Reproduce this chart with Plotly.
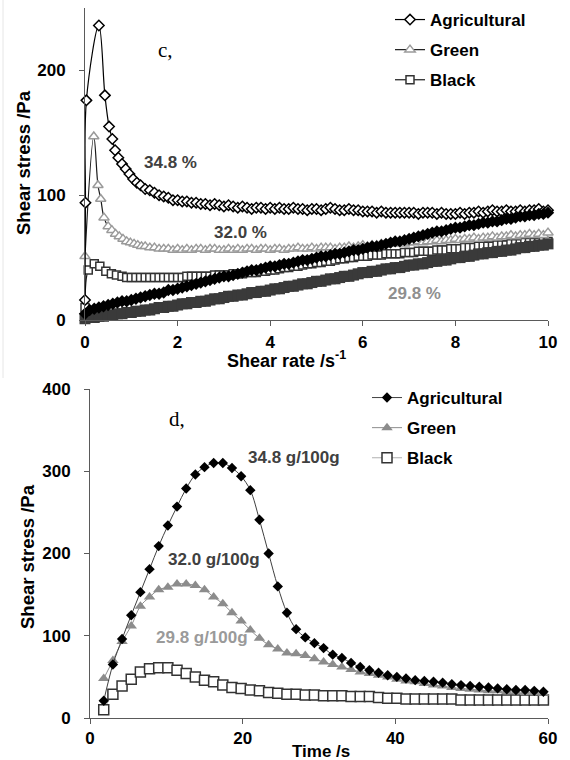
import plotly.graph_objects as go

# ---------------- Panel c: shear stress vs shear rate ----------------
RATE_GRID = [0.0, 0.1, 0.2, 0.3, 0.4, 0.5, 0.6, 0.7, 0.8, 0.9,
             1.0, 1.1, 1.2, 1.3, 1.4, 1.5, 1.6, 1.7, 1.8, 1.9,
             2.0, 2.1, 2.2, 2.3, 2.4, 2.5, 2.6, 2.7, 2.8, 2.9,
             3.0, 3.1, 3.2, 3.3, 3.4, 3.5, 3.6, 3.7, 3.8, 3.9,
             4.0, 4.1, 4.2, 4.3, 4.4, 4.5, 4.6, 4.7, 4.8, 4.9,
             5.0, 5.1, 5.2, 5.3, 5.4, 5.5, 5.6, 5.7, 5.8, 5.9,
             6.0, 6.1, 6.2, 6.3, 6.4, 6.5, 6.6, 6.7, 6.8, 6.9,
             7.0, 7.1, 7.2, 7.3, 7.4, 7.5, 7.6, 7.7, 7.8, 7.9,
             8.0, 8.1, 8.2, 8.3, 8.4, 8.5, 8.6, 8.7, 8.8, 8.9,
             9.0, 9.1, 9.2, 9.3, 9.4, 9.5, 9.6, 9.7, 9.8, 9.9, 10.0]

# Agricultural (up curve, open diamonds): early points then grid from 1.3
agri_up_x_early = [0.0, 0.01, 0.03, 0.3, 0.43, 0.52, 0.59, 0.65, 0.72, 0.8, 0.88, 0.96, 1.04, 1.12, 1.2]
agri_up_y_early = [16, 94, 176, 236, 180, 155, 145, 136, 130, 125, 121, 117, 113, 110, 108]
agri_up_y_tail = [105, 104, 102, 100, 99, 98, 96,                       # 1.3-1.9
                  96, 95, 95, 94, 94, 93, 93, 92, 93, 92,               # 2.0-2.9
                  91, 92, 91, 90, 91, 90, 89, 90, 90, 89,               # 3.0-3.9
                  90, 89, 90, 89, 89, 90, 89, 89, 88, 89,               # 4.0-4.9
                  89, 88, 89, 90, 89, 88, 88, 89, 88, 88,               # 5.0-5.9
                  87, 87, 87, 86, 87, 86, 86, 86, 86, 86,               # 6.0-6.9
                  86, 86, 85, 86, 86, 86, 85, 86, 85, 85,               # 7.0-7.9
                  85, 86, 85, 86, 86, 87, 86, 87, 88, 87,               # 8.0-8.9
                  87, 88, 87, 87, 88, 87, 88, 88, 89, 87, 88]           # 9.0-10.0

# Green (up curve, open triangles): early points then grid from 1.4
green_up_x_early = [0.0, 0.19, 0.28, 0.34, 0.41, 0.5, 0.58, 0.66, 0.74, 0.82, 0.9, 0.98, 1.06, 1.14, 1.22, 1.3]
green_up_y_early = [51, 147, 108, 97, 82, 75, 72, 69, 67, 65, 63, 62, 61, 60, 59, 59]
green_up_y_tail = [58, 58, 57, 57, 57, 56,                              # 1.4-1.9
                   57, 56, 57, 56, 57, 57, 56, 57, 57, 56,              # 2.0-2.9
                   56, 57, 56, 57, 56, 57, 57, 56, 57, 57,              # 3.0-3.9
                   56, 57, 57, 56, 57, 57, 58, 57, 57, 58,              # 4.0-4.9
                   57, 58, 58, 58, 57, 58, 58, 59, 58, 59,              # 5.0-5.9
                   60, 59, 60, 60, 61, 60, 61, 61, 62, 61,              # 6.0-6.9
                   62, 62, 63, 62, 63, 63, 64, 63, 64, 64,              # 7.0-7.9
                   65, 64, 65, 65, 66, 65, 66, 66, 67, 66,              # 8.0-8.9
                   67, 67, 68, 67, 68, 68, 69, 68, 69, 68, 70]          # 9.0-10.0

# Black (up curve, open squares): early points then grid from 1.1
black_up_x_early = [0.0, 0.07, 0.2, 0.32, 0.45, 0.57, 0.68, 0.8, 0.9, 1.0]
black_up_y_early = [10, 40, 45, 43, 39, 37, 36, 35, 34, 34]
black_up_y_tail = [34, 34, 34, 34, 34, 34, 34, 34, 34,                  # 1.1-1.9
                   34, 34, 35, 35, 35, 35, 35, 35, 36, 36,              # 2.0-2.9
                   36, 36, 37, 37, 37, 38, 38, 38, 39, 39,              # 3.0-3.9
                   40, 40, 41, 42, 42, 43, 43, 44, 45, 45,              # 4.0-4.9
                   46, 46, 47, 47, 48, 49, 49, 50, 50, 51,              # 5.0-5.9
                   51, 51, 52, 52, 52, 53, 53, 53, 53, 54,              # 6.0-6.9
                   54, 54, 55, 55, 55, 55, 56, 56, 56, 57,              # 7.0-7.9
                   57, 57, 58, 58, 58, 59, 59, 59, 59, 60,              # 8.0-8.9
                   60, 60, 61, 61, 61, 62, 62, 62, 62, 63, 63]          # 9.0-10.0

# Agricultural (down curve, filled black diamonds) on RATE_GRID
agri_down_y = [5, 8, 9, 10, 11, 12, 13, 14, 15, 15,
               16, 17, 18, 19, 20, 21, 21, 22, 24, 24,
               25, 26, 27, 28, 29, 30, 31, 32, 33, 34,
               35, 35, 36, 37, 38, 39, 40, 40, 41, 42,
               43, 43, 44, 45, 45, 46, 47, 48, 48, 49,
               50, 51, 51, 52, 53, 53, 54, 55, 56, 56,
               57, 58, 59, 59, 60, 61, 62, 63, 63, 64,
               65, 66, 67, 68, 69, 70, 71, 71, 72, 73,
               74, 74, 75, 76, 76, 77, 78, 78, 79, 79,
               80, 81, 81, 82, 83, 83, 84, 84, 85, 85, 86]

# Down curve, filled dark grey squares on RATE_GRID
black_down_y = [1, 2, 2, 3, 3, 4, 4, 5, 5, 6,
                6, 7, 7, 8, 8, 9, 10, 10, 11, 11,
                12, 13, 13, 14, 14, 15, 15, 16, 17, 17,
                18, 19, 19, 20, 20, 21, 22, 22, 23, 23,
                24, 25, 25, 26, 27, 27, 28, 29, 29, 30,
                31, 31, 32, 33, 33, 34, 35, 35, 36, 37,
                38, 38, 39, 39, 40, 41, 41, 42, 42, 43,
                44, 44, 45, 45, 46, 47, 47, 48, 48, 49,
                50, 50, 51, 51, 52, 53, 53, 54, 54, 55,
                55, 56, 56, 57, 58, 58, 59, 59, 60, 60, 61]

# ---------------- Panel d: shear stress vs time ----------------
TIME = [1.8, 3.0, 4.2, 5.4, 6.6, 7.8, 9.0, 10.2, 11.4, 12.6,
        13.8, 15.0, 16.2, 17.4, 18.6, 19.8, 21.0, 22.2, 23.4, 24.6,
        25.8, 27.0, 28.2, 29.4, 30.6, 31.8, 33.0, 34.2, 35.4, 36.6,
        37.8, 39.0, 40.2, 41.4, 42.6, 43.8, 45.0, 46.2, 47.4, 48.6,
        49.8, 51.0, 52.2, 53.4, 54.6, 55.8, 57.0, 58.2, 59.4]
agri_t = [21, 65, 96, 125, 153, 181, 209, 234, 257, 279,
          296, 305, 310, 310, 304, 294, 277, 241, 200, 160,
          128, 108, 98, 91, 85, 77, 73, 67, 62, 58,
          55, 52, 50, 48, 46, 45, 44, 43, 41, 40,
          39, 38, 37, 36, 35, 34, 34, 33, 32]
green_t = [48, 70, 93, 112, 136, 147, 156, 159, 163, 163,
           161, 156, 147, 139, 128, 118, 107, 97, 89, 84,
           79, 78, 76, 72, 68, 65, 62, 59, 56, 54,
           52, 50, 47, 45, 44, 42, 40, 39, 37, 36,
           35, 34, 33, 33, 32, 32, 31, 31, 30]
black_t = [10, 29, 39, 47, 56, 60, 61, 61, 58, 54,
           50, 46, 44, 40, 37, 36, 34, 33, 31, 30,
           29, 29, 28, 28, 27, 27, 27, 26, 26, 26,
           25, 24, 24, 23, 23, 23, 23, 23, 23, 22,
           22, 22, 22, 22, 22, 22, 22, 22, 22]

SERIES_NAMES = ["Agricultural", "Green", "Black"]

W, H = 570, 760
FONT = "Liberation Sans, Arial, sans-serif"

fig = go.Figure()

# --- panel c traces ---
fig.add_trace(go.Scatter(
    x=black_up_x_early + RATE_GRID[11:], y=black_up_y_early + black_up_y_tail,
    mode="lines+markers", name=SERIES_NAMES[2], legend="legend", legendgroup="c3",
    line=dict(color="#1a1a1a", width=1.2, shape="spline"),
    marker=dict(symbol="square", size=8, color="white", line=dict(color="#333333", width=1.5)),
    cliponaxis=False, xaxis="x", yaxis="y", legendrank=3))
fig.add_trace(go.Scatter(
    x=green_up_x_early + RATE_GRID[14:], y=green_up_y_early + green_up_y_tail,
    mode="lines+markers", name=SERIES_NAMES[1], legend="legend", legendgroup="c2",
    line=dict(color="#1a1a1a", width=1.2, shape="spline"),
    marker=dict(symbol="triangle-up", size=9, color="white", line=dict(color="#9a9a9a", width=1.5)),
    cliponaxis=False, xaxis="x", yaxis="y", legendrank=2))
fig.add_trace(go.Scatter(
    x=agri_up_x_early + RATE_GRID[13:], y=agri_up_y_early + agri_up_y_tail,
    mode="lines+markers", name=SERIES_NAMES[0], legend="legend", legendgroup="c1",
    line=dict(color="#000000", width=1.2, shape="spline"),
    marker=dict(symbol="diamond", size=8, color="white", line=dict(color="#000000", width=1.5)),
    cliponaxis=False, xaxis="x", yaxis="y", legendrank=1))
fig.add_trace(go.Scatter(
    x=RATE_GRID, y=black_down_y, mode="lines+markers", showlegend=False,
    line=dict(color="#3a3a3a", width=2),
    marker=dict(symbol="square", size=11, color="#3a3a3a", line=dict(width=0)),
    cliponaxis=False, xaxis="x", yaxis="y"))
fig.add_trace(go.Scatter(
    x=RATE_GRID, y=agri_down_y, mode="lines+markers", showlegend=False,
    line=dict(color="#000000", width=2),
    marker=dict(symbol="diamond", size=9.5, color="#000000", line=dict(width=0)),
    cliponaxis=False, xaxis="x", yaxis="y"))

# --- panel d traces ---
fig.add_trace(go.Scatter(
    x=TIME, y=black_t, mode="lines+markers", name=SERIES_NAMES[2], legend="legend2", legendgroup="d3",
    line=dict(color="#b0b0b0", width=1, shape="spline"),
    marker=dict(symbol="square", size=10, color="white", line=dict(color="#333333", width=1.5)),
    cliponaxis=False, xaxis="x2", yaxis="y2", legendrank=3))
fig.add_trace(go.Scatter(
    x=TIME, y=green_t, mode="lines+markers", name=SERIES_NAMES[1], legend="legend2", legendgroup="d2",
    line=dict(color="#8c8c8c", width=1, shape="spline"),
    marker=dict(symbol="triangle-up", size=10, color="#8c8c8c", line=dict(width=0)),
    cliponaxis=False, xaxis="x2", yaxis="y2", legendrank=2))
fig.add_trace(go.Scatter(
    x=TIME, y=agri_t, mode="lines+markers", name=SERIES_NAMES[0], legend="legend2", legendgroup="d1",
    line=dict(color="#404040", width=1, shape="spline"),
    marker=dict(symbol="diamond", size=8, color="#000000", line=dict(width=0)),
    cliponaxis=False, xaxis="x2", yaxis="y2", legendrank=1))

axis_common = dict(showline=True, linecolor="#5a5a5a", linewidth=1, ticks="outside",
                   ticklen=5, tickcolor="#5a5a5a", showgrid=False, zeroline=False,
                   automargin=False,
                   tickfont=dict(family=FONT, size=17, color="#000000", weight="bold"))

fig.update_layout(
    template="none",
    width=W, height=H, margin=dict(l=0, r=0, t=0, b=0, pad=0, autoexpand=False),
    plot_bgcolor="white", paper_bgcolor="white",
    xaxis=dict(domain=[85 / W, 548 / W], range=[0, 10], tickvals=[0, 2, 4, 6, 8, 10],
               anchor="y", ticklabelstandoff=2, **axis_common),
    yaxis=dict(domain=[1 - 320 / H, 1 - 8 / H], range=[0, 250], tickvals=[0, 100, 200],
               anchor="x", ticklabelstandoff=10, **axis_common),
    xaxis2=dict(domain=[90 / W, 548 / W], range=[0, 60], tickvals=[0, 20, 40, 60],
                anchor="y2", ticklabelstandoff=0, **axis_common),
    yaxis2=dict(domain=[1 - 718 / H, 1 - 389 / H], range=[0, 400], tickvals=[0, 100, 200, 300, 400],
                anchor="x2", ticklabelstandoff=10, **axis_common),
    legend=dict(x=390 / W, y=1 - 2 / H, xanchor="left", yanchor="top",
                font=dict(family=FONT, size=17, color="#000000", weight="bold"),
                traceorder="grouped", tracegroupgap=5, bgcolor="rgba(0,0,0,0)"),
    legend2=dict(x=367 / W, y=1 - 380 / H, xanchor="left", yanchor="top",
                 font=dict(family=FONT, size=17, color="#000000", weight="bold"),
                 traceorder="grouped", tracegroupgap=5, bgcolor="rgba(0,0,0,0)"),
)

def ann(text, x, y, xref, yref, size=17, color="#404040", family=FONT, weight="bold", angle=0):
    fig.add_annotation(text=text, x=x, y=y, xref=xref, yref=yref, showarrow=False,
                       textangle=angle, xanchor="center", yanchor="middle",
                       font=dict(family=family, size=size, color=color, weight=weight))

# panel labels
ann("c,", 1.73, 216, "x", "y", size=21, color="#000000", family="Liberation Serif, serif", weight="normal")
ann("d,", 11.4, 363, "x2", "y2", size=21, color="#000000", family="Liberation Serif, serif", weight="normal")
# concentration labels
ann("34.8 %", 1.84, 126, "x", "y", color="#404040")
ann("32.0 %", 3.35, 70, "x", "y", color="#404040")
ann("29.8 %", 7.11, 21, "x", "y", color="#8f8f8f")
ann("34.8 g/100g", 26.7, 317, "x2", "y2", color="#404040")
ann("32.0 g/100g", 16.2, 193, "x2", "y2", color="#404040")
ann("29.8 g/100g", 14.7, 98, "x2", "y2", color="#9a9a9a")
# axis titles
ann("Shear stress /Pa", 23 / W, 1 - 163 / H, "paper", "paper", size=18.5, color="#000000", angle=-90)
ann("Shear stress /Pa", 27 / W, 1 - 557 / H, "paper", "paper", size=18.5, color="#000000", angle=-90)
ann("Shear rate /s<sup>-1</sup>", 286 / W, 1 - 359 / H, "paper", "paper", size=18, color="#000000")
ann("Time /s", 321 / W, 1 - 751 / H, "paper", "paper", size=17, color="#000000")

# faint frame edge of the upper panel
fig.add_shape(type="line", xref="paper", yref="paper", x0=3 / W, x1=3 / W, y0=1, y1=1 - 378 / H,
              line=dict(color="#e6e6e6", width=1))

fig.write_html("out.html", config={"displayModeBar": False},
               post_script="document.body.style.margin='0';")
